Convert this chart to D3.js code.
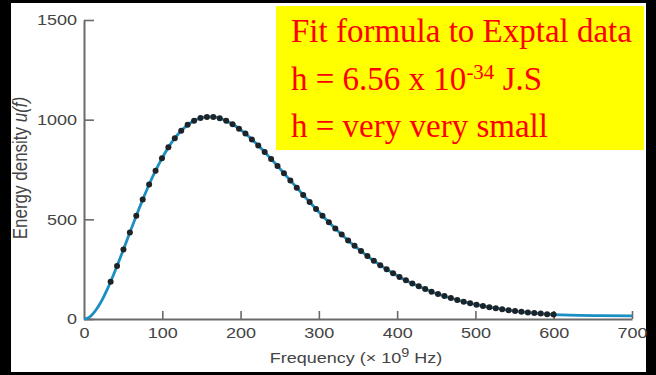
<!DOCTYPE html>
<html><head><meta charset="utf-8">
<script src="https://cdn.jsdelivr.net/npm/d3@7"></script>
<style>html,body{margin:0;padding:0;background:#000;}svg{display:block;}</style>
</head><body>
<svg id="c" width="656" height="375"></svg>
<script>
// Measured data points (frequency in GHz, energy density)
const dotFreq = [34,42.2,50.4,58.6,66.8,75,83.2,91.4,99.6,107.8,116,124.2,132.4,140.6,148.8,157,165.2,173.4,181.6,189.8,198,206.2,214.4,222.6,230.8,239,247.2,255.4,263.6,271.8,280,288.2,296.4,304.6,312.8,321,329.2,337.4,345.6,353.8,362,370.2,378.4,386.6,394.8,403,411.2,419.4,427.6,435.8,444,452.2,460.4,468.6,476.8,485,493.2,501.4,509.6,517.8,526,534.2,542.4,550.6,558.8,567,575.2,583.4,591.6,599.8];
const dotVal = [187,266,349,434,518,599,675,744,806,861,907,944,974,995,1008,1014,1014,1007,994,977,955,930,901,871,838,803,768,731,695,659,622,587,552,518,485,454,424,394,367,341,316,292,270,249,230,211,194,178,164,150,137,125,115,105,95,87,79,72,65,59,54,49,44,40,36,33,30,27,24,22];
// Fitted curve (beyond the data at both ends)
const curveHeadFreq = [0,5,10,15,20,25,30];
const curveHeadVal  = [0,5,20,44,74,110,151];
const curveTailFreq = [620,660,700];
const curveTailVal  = [19,17,16];
const xTicks = [0,100,200,300,400,500,600,700];
const yTicks = [0,500,1000,1500];
const boxLines = ["Fit formula to Exptal data", "h = 6.56 x 10", "h = very very small"];

const svg = d3.select("#c");
svg.append("rect").attr("x",11).attr("y",3).attr("width",635).attr("height",369).attr("fill","#fff");

const x = d3.scaleLinear().domain([0,700]).range([84,632]);
const y = d3.scaleLinear().domain([0,1500]).range([319,20]);
const FONT = "'Liberation Sans', Arial, Helvetica, sans-serif";

// axes
const gy = svg.append("g").attr("transform","translate(84,0)")
  .call(d3.axisLeft(y).tickValues(yTicks).tickFormat(d3.format("d")).tickSizeInner(-10).tickSizeOuter(0).tickPadding(7));
const gx = svg.append("g").attr("transform","translate(0,319)")
  .call(d3.axisBottom(x).tickValues(xTicks).tickFormat(d3.format("d")).tickSizeInner(-8).tickSizeOuter(0).tickPadding(8));
[gx,gy].forEach(g=>{
  g.select(".domain").attr("stroke","#6a6a6a").attr("stroke-width",2);
  g.selectAll(".tick line").attr("stroke","#6a6a6a").attr("stroke-width",1.6);
  g.selectAll(".tick text").attr("fill","#444").style("font-family",FONT).style("font-size","15px");
});
gy.selectAll(".tick text").attr("x",0).attr("transform","translate(-7,0) scale(1.2,1)");
gx.selectAll(".tick text").attr("transform","scale(1.2,1)");
gx.selectAll(".tick").filter(d=>d===0).select("line").remove();

// curve
const curvePts = curveHeadFreq.map((f,i)=>[f,curveHeadVal[i]])
  .concat(dotFreq.map((f,i)=>[f,dotVal[i]]))
  .concat(curveTailFreq.map((f,i)=>[f,curveTailVal[i]]));
svg.append("path").datum(curvePts)
  .attr("d", d3.line().x(d=>x(d[0])).y(d=>y(d[1])).curve(d3.curveMonotoneX))
  .attr("fill","none").attr("stroke","#1b8ec2").attr("stroke-width",2.8);

// dots
svg.append("g").selectAll("circle").data(dotFreq).join("circle")
  .attr("cx",(d)=>x(d)).attr("cy",(d,i)=>y(dotVal[i])).attr("r",3).attr("fill","#1e2328");

// axis titles
const xt = svg.append("text").attr("transform","translate(356,363) scale(1.2,1)")
  .attr("text-anchor","middle").attr("fill","#444").style("font-family",FONT).style("font-size","15px");
xt.append("tspan").text("Frequency (\u00d7 10");
xt.append("tspan").attr("dy",-6).style("font-size","12px").text("9");
xt.append("tspan").attr("dy",6).text(" Hz)");

const yt = svg.append("text").attr("transform","translate(27,168) rotate(-90) scale(1,1.15)")
  .attr("text-anchor","middle").attr("fill","#444").style("font-family",FONT).style("font-size","17px");
yt.append("tspan").text("Energy density ");
yt.append("tspan").style("font-style","italic").text("u(f)");

// yellow annotation box
svg.append("rect").attr("x",276).attr("y",6).attr("width",368).attr("height",144).attr("fill","#ffff00");
const SERIF = "'Liberation Serif', 'Times New Roman', serif";
const bl = [42,90,137];
boxLines.forEach((t,i)=>{
  const tx = svg.append("text").attr("x",291).attr("y",bl[i]).attr("fill","#ff0000")
    .style("font-family",SERIF).style("font-size","33px");
  tx.append("tspan").text(t);
  if(i===1){
    tx.append("tspan").attr("dy",-11).style("font-size","21px").text("-34");
    tx.append("tspan").attr("dy",11).text(" J.S");
  }
});
</script>
</body></html>
